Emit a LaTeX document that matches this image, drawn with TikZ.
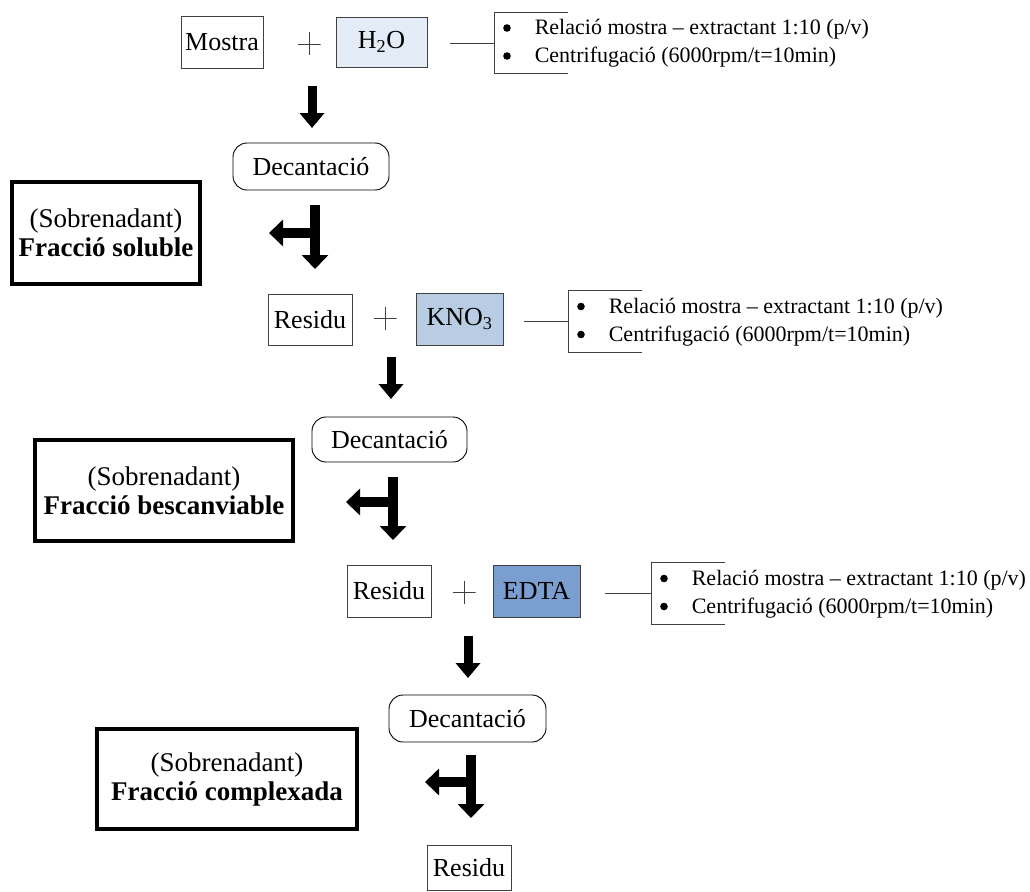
\documentclass[tikz,border=0pt]{standalone}
\usepackage{fontspec}
\setmainfont{Liberation Serif}
\usetikzlibrary{arrows.meta}
\definecolor{cA}{HTML}{E4ECF7}
\definecolor{cB}{HTML}{B8CCE4}
\definecolor{cC}{HTML}{7B9ED0}
\definecolor{ln}{HTML}{404040}
\newcommand{\bigdot}{\tikz[baseline=-0.3em]\fill (0,0) circle (3.8pt);}
\newcommand{\notetext}{\def\arraystretch{1}\begin{tabular}{@{\hspace{9pt}}l@{\hspace{24pt}}l@{}}\bigdot & Relació mostra – extractant 1:10 (p/v)\\ \bigdot & Centrifugació (6000rpm/t=10min)\end{tabular}}
\tikzset{
 lbl/.style={font=\fontsize{26}{30}\selectfont, inner sep=0, align=center},
 box/.style={lbl, draw=ln, line width=0.9pt},
 dec/.style={lbl, draw=black, line width=0.9pt, rounded corners=14},
 frac/.style={font=\fontsize{27}{29}\selectfont, draw=black, line width=4pt, align=center, inner sep=0},
 plus/.style={minimum size=23, inner sep=0, path picture={\draw[ln, line width=0.8pt] (path picture bounding box.north) -- (path picture bounding box.south) (path picture bounding box.west) -- (path picture bounding box.east);}},
 note/.style={font=\fontsize{22}{28}\selectfont, inner sep=0, minimum height=61, anchor=west},
 brk/.style={draw=ln, line width=0.9pt},
 blk/.style={line width=9pt, -{Triangle[length=15pt,width=24pt]}},
 tarr/.style={line width=9.5pt, -{Triangle[length=14pt,width=26pt]}},
}
\begin{document}
\begin{tikzpicture}[x=1pt,y=-1pt]
\useasboundingbox (0,0) rectangle (1030,891);
% row 1
\node[box, minimum width=82, minimum height=52] (mostra) at (222,42) {Mostra};
\node[plus] (p1) at (309,44) {};
\node[box, fill=cA, minimum width=91, minimum height=50] (h2o) at (381.5,42) {H\textsubscript{2}O};
\coordinate (c1) at (450,43);
\node[note] (n1) at (494,43) {\notetext};
\draw[brk] ([xshift=74]n1.north west) -- (n1.north west) -- (n1.south west) -- ([xshift=74]n1.south west);
\draw[brk] (c1) -- (n1.west);
\coordinate (a1s) at (312,86);
\coordinate (a1e) at (312,128);
\draw[blk] (a1s) -- (a1e);
\node[dec, minimum width=156, minimum height=47] (d1) at (311,166.5) {Decantació};
\node[frac, minimum width=188, minimum height=102] (f1) at (106,233) {(Sobrenadant)\\\textbf{Fracció soluble}};
\coordinate (t1) at (315,205);
\coordinate (t1e) at (315,269);
\coordinate (t1m) at (315,233);
\coordinate (t1l) at (269,233);
\draw[tarr] (t1) -- (t1e);
\draw[tarr] (t1m) -- (t1l);
% row 2
\node[box, minimum width=84, minimum height=51] (r2) at (310,319.5) {Residu};
\node[plus] (p2) at (385,318) {};
\node[box, fill=cB, minimum width=87, minimum height=52] (kno) at (459.5,319) {KNO\textsubscript{3}};
\coordinate (c2) at (524,321.5);
\node[note] (n2) at (568,321.5) {\notetext};
\draw[brk] ([xshift=74]n2.north west) -- (n2.north west) -- (n2.south west) -- ([xshift=74]n2.south west);
\draw[brk] (c2) -- (n2.west);
\coordinate (a2s) at (391,357);
\coordinate (a2e) at (391,399);
\draw[blk] (a2s) -- (a2e);
\node[dec, minimum width=155, minimum height=45] (d2) at (389.5,439.5) {Decantació};
\node[frac, minimum width=258, minimum height=101] (f2) at (164,490.5) {(Sobrenadant)\\\textbf{Fracció bescanviable}};
\coordinate (t2) at (393,477);
\coordinate (t2e) at (393,540);
\coordinate (t2m) at (393,502);
\coordinate (t2l) at (346,502);
\draw[tarr] (t2) -- (t2e);
\draw[tarr] (t2m) -- (t2l);
% row 3
\node[box, minimum width=84, minimum height=52] (r3) at (389,591) {Residu};
\node[plus] (p3) at (464,592) {};
\node[box, fill=cC, minimum width=87, minimum height=52] (edta) at (536.5,591) {EDTA};
\coordinate (c3) at (605,593.5);
\node[note] (n3) at (651,593.5) {\notetext};
\draw[brk] ([xshift=74]n3.north west) -- (n3.north west) -- (n3.south west) -- ([xshift=74]n3.south west);
\draw[brk] (c3) -- (n3.west);
\coordinate (a3s) at (468,636);
\coordinate (a3e) at (468,678);
\draw[blk] (a3s) -- (a3e);
\node[dec, minimum width=157, minimum height=47] (d3) at (467.5,718.5) {Decantació};
\node[frac, minimum width=260, minimum height=100] (f3) at (227,779) {(Sobrenadant)\\\textbf{Fracció complexada}};
\coordinate (t3) at (471,755);
\coordinate (t3e) at (471,818);
\coordinate (t3m) at (471,782);
\coordinate (t3l) at (425,782);
\draw[tarr] (t3) -- (t3e);
\draw[tarr] (t3m) -- (t3l);
% final
\node[box, minimum width=84, minimum height=45] (r4) at (469,867.5) {Residu};
\end{tikzpicture}
\end{document}
